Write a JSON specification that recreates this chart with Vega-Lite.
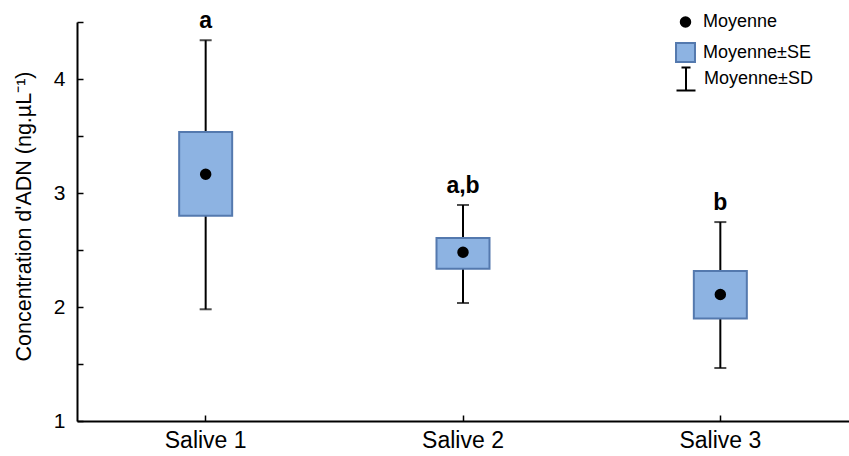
{
  "$schema": "https://vega.github.io/schema/vega-lite/v6.json",
  "width": 772,
  "height": 399,
  "autosize": {"type": "none"},
  "padding": {"left": 77, "top": 22, "right": 0, "bottom": 35},
  "background": "white",
  "config": {
    "view": {"stroke": null},
    "font": "Liberation Sans",
    "axis": {"domainColor": "black", "domainWidth": 2, "tickColor": "black", "tickWidth": 1.5, "labelColor": "black", "titleColor": "black", "grid": false}
  },
  "data": {
    "values": [
      {"groupe": "Salive 1", "moyenne": 3.165, "se_bas": 2.80, "se_haut": 3.535, "sd_bas": 1.98, "sd_haut": 4.34, "lettre": "a"},
      {"groupe": "Salive 2", "moyenne": 2.48, "se_bas": 2.335, "se_haut": 2.605, "sd_bas": 2.035, "sd_haut": 2.895, "lettre": "a,b"},
      {"groupe": "Salive 3", "moyenne": 2.11, "se_bas": 1.90, "se_haut": 2.315, "sd_bas": 1.465, "sd_haut": 2.745, "lettre": "b"}
    ]
  },
  "resolve": {"axis": {"x": "independent", "y": "independent"}},
  "layer": [
    {
      "description": "SD whiskers; carries the labelled axes and the SD legend entry",
      "mark": {"type": "rule", "color": "black", "strokeWidth": 2},
      "encoding": {
        "x": {
          "field": "groupe",
          "type": "nominal",
          "scale": {"type": "band", "paddingInner": 0, "paddingOuter": 0},
          "axis": {"orient": "bottom", "title": null, "labelAngle": 0, "labelFontSize": 23, "ticks": false, "labelPadding": 8}
        },
        "y": {
          "field": "sd_bas",
          "type": "quantitative",
          "scale": {"domain": [1, 4.5], "nice": false, "zero": false},
          "axis": {
            "orient": "left",
            "title": "Concentration d'ADN (ng.µL⁻¹)",
            "titleFontSize": 21.5,
            "titleFontWeight": "normal",
            "titlePadding": 18,
            "titleY": 194,
            "values": [1, 2, 3, 4],
            "format": "d",
            "labelFontSize": 21,
            "ticks": false,
            "labelPadding": 12
          }
        },
        "y2": {"field": "sd_haut"},
        "opacity": {
          "datum": "Moyenne±SD",
          "type": "nominal",
          "scale": {"type": "ordinal", "domain": ["Moyenne±SD"], "range": [1]},
          "legend": {
            "title": null,
            "orient": "none",
            "legendX": 598,
            "legendY": 46,
            "padding": 0,
            "labelFontSize": 18,
            "labelOffset": 7,
            "symbolType": "M-0.45,-1.15L0.45,-1.15M0,-1.15L0,1.15M-0.95,1.15L0.95,1.15",
            "symbolSize": 400,
            "symbolStrokeColor": "black",
            "symbolFillColor": "transparent",
            "symbolStrokeWidth": 2,
            "symbolOpacity": 1
          }
        }
      }
    },
    {
      "description": "Lower whisker caps; carries the inward tick marks",
      "mark": {"type": "tick", "color": "black", "size": 12, "thickness": 2, "orient": "horizontal"},
      "encoding": {
        "x": {
          "field": "groupe",
          "type": "nominal",
          "axis": {"orient": "top", "offset": -399, "title": null, "labels": false, "domain": false, "tickSize": 6}
        },
        "y": {
          "field": "sd_bas",
          "type": "quantitative",
          "axis": {"orient": "right", "offset": -772, "title": null, "labels": false, "domain": false, "tickSize": 6, "values": [1, 1.5, 2, 2.5, 3, 3.5, 4, 4.5]}
        }
      }
    },
    {
      "mark": {"type": "tick", "color": "black", "size": 12, "thickness": 2, "orient": "horizontal"},
      "encoding": {
        "x": {"field": "groupe", "type": "nominal", "axis": null},
        "y": {"field": "sd_haut", "type": "quantitative", "axis": null}
      }
    },
    {
      "mark": {"type": "bar", "width": 53, "fill": "#8DB3E2", "stroke": "#5479AE", "strokeWidth": 2},
      "encoding": {
        "x": {"field": "groupe", "type": "nominal", "axis": null},
        "y": {"field": "se_bas", "type": "quantitative", "axis": null},
        "y2": {"field": "se_haut"}
      }
    },
    {
      "mark": {"type": "point", "filled": true, "strokeWidth": 2, "opacity": 1},
      "encoding": {
        "x": {"field": "groupe", "type": "nominal", "axis": null},
        "y": {"field": "moyenne", "type": "quantitative", "axis": null},
        "shape": {
          "datum": "Moyenne",
          "type": "nominal",
          "scale": {"domain": ["Moyenne", "Moyenne±SE"], "range": ["circle", "square"]},
          "legend": {
            "title": null,
            "orient": "none",
            "legendX": 598,
            "legendY": -9,
            "padding": 0,
            "labelFontSize": 18,
            "labelOffset": 7,
            "rowPadding": 8,
            "symbolStrokeWidth": 2
          }
        },
        "fill": {
          "datum": "Moyenne",
          "type": "nominal",
          "scale": {"domain": ["Moyenne", "Moyenne±SE"], "range": ["black", "#8DB3E2"]},
          "legend": {"title": null}
        },
        "stroke": {
          "datum": "Moyenne",
          "type": "nominal",
          "scale": {"domain": ["Moyenne", "Moyenne±SE"], "range": ["black", "#5479AE"]},
          "legend": {"title": null}
        },
        "size": {
          "datum": "Moyenne",
          "type": "nominal",
          "scale": {"type": "ordinal", "domain": ["Moyenne", "Moyenne±SE"], "range": [90, 360]},
          "legend": {"title": null}
        }
      }
    },
    {
      "mark": {"type": "text", "fontWeight": "bold", "fontSize": 23, "baseline": "bottom", "dy": -7, "color": "black"},
      "encoding": {
        "x": {"field": "groupe", "type": "nominal", "axis": null},
        "y": {"field": "sd_haut", "type": "quantitative", "axis": null},
        "text": {"field": "lettre"}
      }
    }
  ]
}
